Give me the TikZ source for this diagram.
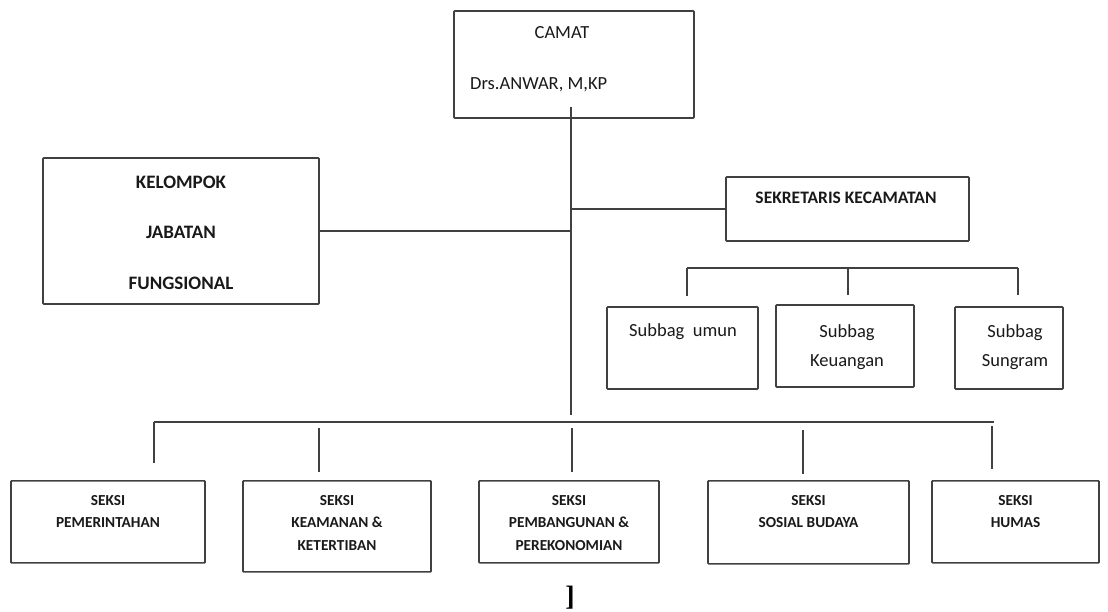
\documentclass[tikz,border=0pt]{standalone}
\usepackage{fontspec}
\setmainfont{Carlito}
\newfontfamily\brfont{Liberation Serif}
\usepackage{tikz}
\usetikzlibrary{positioning,calc}

\begin{document}
\begin{tikzpicture}[x=1pt,y=-1pt,
        box/.style={draw=black!75,line width=1.7pt,rounded corners=0.8pt,
                    inner sep=0pt},
        link/.style={draw=black!75,line width=1.6pt},
        toptxt/.style={inner sep=0pt,text=black!90,
                    font=\fontsize{18.5}{22}\selectfont},
        subtxt/.style={inner sep=0pt,text=black!90,align=center,
                    font=\fontsize{18.5}{29}\selectfont},
        seksitxt/.style={inner sep=0pt,text=black!90,align=center,
                    font=\fontsize{15.3}{22.5}\selectfont\bfseries}]
        \useasboundingbox (0,0) rectangle (1108,612);
        % camat
        \node[box,minimum width=240pt,minimum height=107pt] (camat) at (574,64.5) {};
        \node[toptxt] (tcamat) at (562,33) {CAMAT};
        \node[toptxt,anchor=west] (tanwar) at (470,85) {Drs.ANWAR, M,KP};
        % kelompok jabatan fungsional
        \node[box,minimum width=276pt,minimum height=146pt] (kjf) at (181,231) {};
        \node[inner sep=0pt,align=center,text=black!90,
              font=\fontsize{19}{50.5}\selectfont\bfseries] (tkjf) at (181,232.5)
              {KELOMPOK\\JABATAN\\FUNGSIONAL};
        % sekretaris
        \node[box,minimum width=243pt,minimum height=64pt] (sekcam) at (847.5,209) {};
        \node[inner sep=0pt,text=black!90,
              font=\fontsize{17.5}{20}\selectfont\bfseries] (tsekcam) at (846,198)
              {SEKRETARIS KECAMATAN};
        % subbag
        \foreach \n/\x/\y/\w in {umum/682.5/348/151,keu/845/346/138,sung/1009/348/108}{
          \node[box,minimum width=\w pt,minimum height=82pt] (\n) at (\x,\y) {};
        }
        \node[toptxt] (tumum) at (683,332) {Subbag~~umun};
        \node[subtxt] (tkeu) at (847,347) {Subbag\\Keuangan};
        \node[subtxt] (tsung) at (1015,347) {Subbag\\Sungram};
        % seksi
        \foreach \n/\x/\w/\h/\txt in {pem/108/194/82/{SEKSI\\PEMERINTAHAN},
                                     kam/337/188/91/{SEKSI\\KEAMANAN \&\\KETERTIBAN},
                                     bang/569/180/82/{SEKSI\\PEMBANGUNAN \&\\PEREKONOMIAN},
                                     sos/808.5/201/83/{SEKSI\\SOSIAL BUDAYA},
                                     hum/1015.5/167/82/{SEKSI\\HUMAS}}{
          \node[box,minimum width=\w pt,minimum height=\h pt,anchor=north]
            (\n) at (\x,480) {};
          \node[seksitxt,below=15pt of \n.north] (t\n) {\txt};
        }
        % garis
        \coordinate (spine) at (571,415);
        \draw[link] ($(camat.south -| spine)+(0,-12)$) -- (spine);
        \draw[link] (kjf.east) -- (kjf.east -| spine);
        \draw[link] (sekcam.west -| spine) -- (sekcam.west);
        \coordinate (subbus) at (0,268);
        \foreach \n/\x/\t in {umum/687/10,keu/848/9,sung/1018/11}{
          \path (subbus) ++(\x,0) coordinate (s\n);
          \draw[link,shorten >=\t pt] (s\n) -- (s\n |- \n.north);
        }
        \draw[link] (sumum) -- (ssung);
        \coordinate (botbus) at (0,422);
        \foreach \n/\x/\s/\t in {pem/154/0/17,kam/319/6/8,bang/572/6/8,
                                 sos/803/8/6,hum/992/4/11}{
          \path (botbus) ++(\x,0) coordinate (d\n);
          \draw[link,shorten <=\s pt,shorten >=\t pt] (d\n) -- (d\n |- \n.north);
        }
        \draw[link] (dpem) -- ([xshift=2pt]dhum);
        \node[inner sep=0pt,font=\fontsize{28}{28}\selectfont\brfont\bfseries] (brkt)
          at (570,598) {]};
      \end{tikzpicture}
\end{document}
